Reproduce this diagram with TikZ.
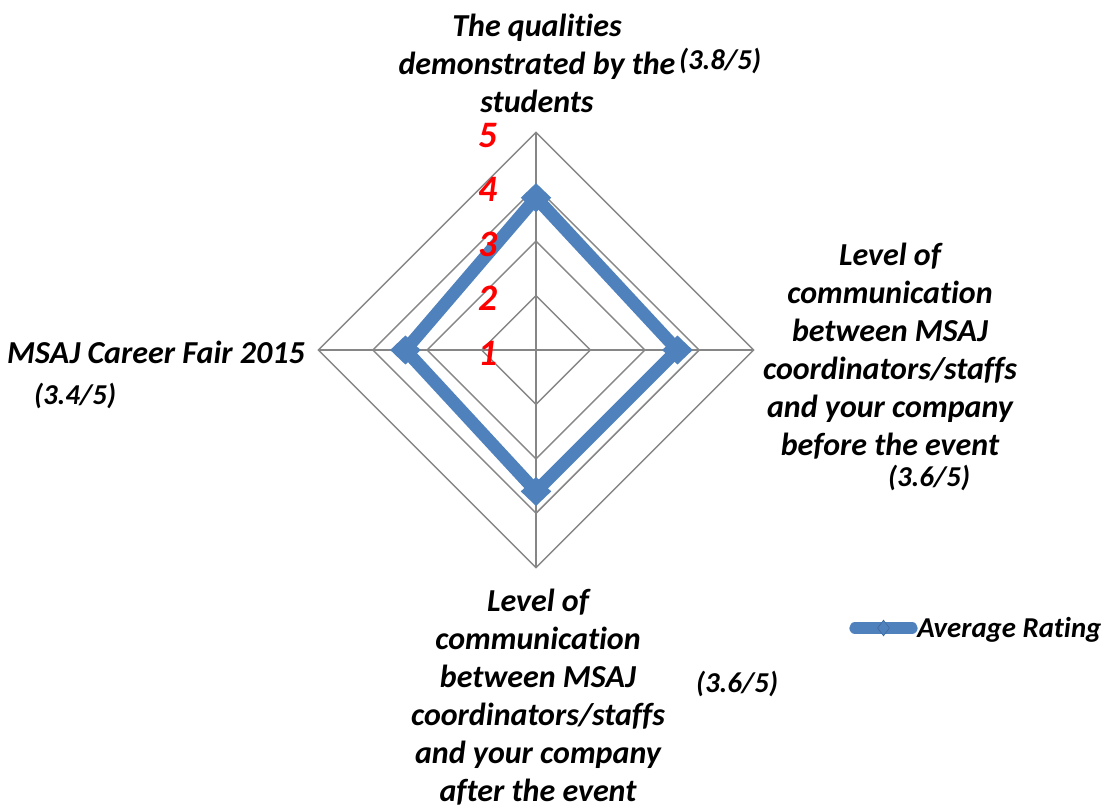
\documentclass[tikz,border=0pt]{standalone}
\usepackage{fontspec}
\setmainfont{Carlito}[Ligatures=NoCommon]
\usepackage{tikz}
\usetikzlibrary{calc,positioning,shapes.geometric}
\definecolor{seriesblue}{HTML}{4F81BD}
\definecolor{gridgray}{HTML}{868686}
\tikzset{
  gridline/.style={draw=gridgray,line width=1.1pt},
  axislabel/.style={font=\fontsize{24}{28.5}\selectfont\bfseries\itshape,align=center,inner sep=0pt},
  scorelabel/.style={font=\fontsize{21.6}{28.5}\selectfont\bfseries\itshape,inner sep=0pt},
  ticklabel/.style={font=\fontsize{28}{30}\selectfont\bfseries\itshape,text=red,inner sep=0pt},
  datamark/.style={diamond,fill=seriesblue,inner sep=0pt,minimum width=23pt,minimum height=22pt}
}
\begin{document}
\begin{tikzpicture}[x=0.75pt,y=-0.75pt]
\useasboundingbox (0,0) rectangle (1110,810);
\coordinate (O) at (536,350);
% rings and spokes
\foreach \r in {1,...,4}
  \draw[gridline] ($(O)+(0,-54.4*\r)$) -- ($(O)+(54.4*\r,0)$) -- ($(O)+(0,54.4*\r)$) -- ($(O)+(-54.4*\r,0)$) -- cycle;
\draw[gridline] ($(O)+(0,-217.6)$) -- ($(O)+(0,217.6)$);
\draw[gridline] ($(O)+(-217.6,0)$) -- ($(O)+(217.6,0)$);
% data
\coordinate (Q) at ($(O)+(0,-152.3)$);
\coordinate (B) at ($(O)+(141.4,0)$);
\coordinate (F) at ($(O)+(0,141.4)$);
\coordinate (C) at ($(O)+(-130.6,0)$);
\draw[seriesblue,line width=9.5pt,line join=round] (Q) -- (B) -- (F) -- (C) -- cycle;
\foreach \p in {Q,B,F,C}
  \node[datamark] at (\p) {};
% scale
\foreach \v in {1,...,5}
  \node[ticklabel] (tick\v) at (488,{353-54.4*(\v-1)}) {\v};
% category labels
\node[axislabel] (topcat) at (537,63) {The qualities\\demonstrated by the\\students};
\node[scorelabel] (topscore) at (720,61) {(3.8/5)};
\node[axislabel] (rightcat) at (890,351) {Level of\\communication\\between MSAJ\\coordinators/staffs\\and your company\\before the event};
\node[scorelabel] (rightscore) at (929,478) {(3.6/5)};
\node[axislabel] (bottomcat) at (538,697) {Level of\\communication\\between MSAJ\\coordinators/staffs\\and your company\\after the event};
\node[scorelabel] (bottomscore) at (737,684) {(3.6/5)};
\node[axislabel,anchor=east] (leftcat) at (305,352) {MSAJ Career Fair 2015};
\node[scorelabel] (leftscore) at (75,396) {(3.4/5)};
% legend
\coordinate (L1) at (855,628);
\coordinate (L2) at (912,628);
\draw[seriesblue,line width=8.5pt,line cap=round] (L1) -- (L2);
\node[diamond,fill=seriesblue,draw=seriesblue!80!black,line width=0.4pt,inner sep=0pt,minimum width=9pt,minimum height=12pt] (legmark) at ($(L1)!0.5!(L2)$) {};
\node[scorelabel,anchor=west] (legtext) at (917,630) {Average Rating};
\end{tikzpicture}
\end{document}
